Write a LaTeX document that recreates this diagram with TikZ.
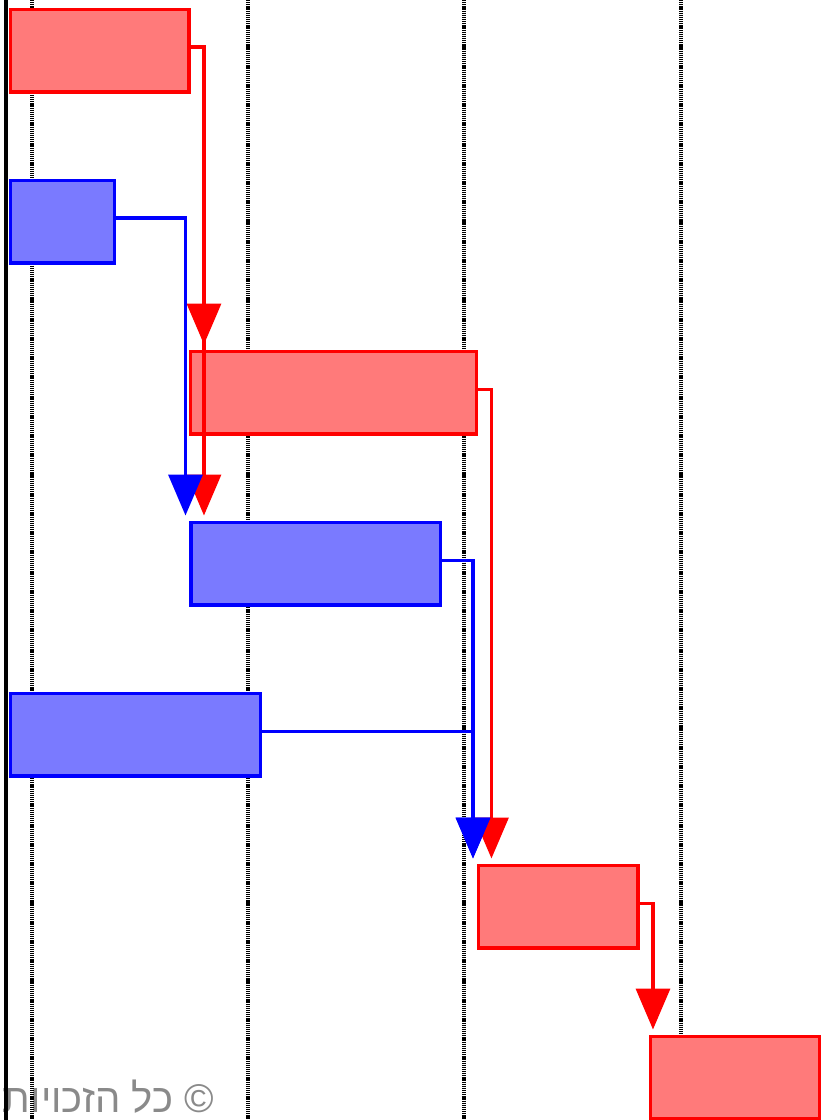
\documentclass[tikz,border=0pt]{standalone}
\usepackage{fontspec}
\usetikzlibrary{arrows.meta}
\TeXXeTstate=1
\newfontfamily\hebfont[Script=Hebrew]{Liberation Sans}
\definecolor{barred}{HTML}{FF0000}
\definecolor{barblue}{HTML}{0000FF}
\definecolor{notegray}{HTML}{8A8A8A}

\begin{document}
\begin{tikzpicture}[x=0.02cm,y=-0.02cm,
 task/.style={line width=2pt,anchor=north west,inner sep=0pt,minimum height=1.66cm},
 redtask/.style={task,draw=barred,fill=barred!52},
 bluetask/.style={task,draw=barblue,fill=barblue!52},
 redlink/.style={draw=barred,line width=2pt,-{Triangle[width=0.68cm,length=0.82cm]},shorten >=0.1cm},
 bluelink/.style={draw=barblue,line width=2pt,-{Triangle[width=0.68cm,length=0.82cm]},shorten >=0.1cm},
 gridline/.style={draw=black,line width=1.8pt,dash pattern=on 0.7pt off 0.5pt}]
\useasboundingbox (0,0) rectangle (821,1120);

\node[anchor=base east,text=notegray,font=\hebfont\fontsize{22.8}{25}\selectfont,inner sep=0pt] (rights) at (214,1112) {\beginR © כל הזכויות\endR};

\foreach \gx in {32,248,464,681}
  \draw[gridline] (\gx,0) -- (\gx,1120);
\draw[line width=2.3pt] (6,0) -- (6,1120);

\node[redtask,minimum width=3.58cm] (t1) at (8.5,7.5) {};
\node[bluetask,minimum width=2.09cm] (t2) at (8.5,178.5) {};
\node[redtask,minimum width=5.73cm] (t3) at (188.5,349.5) {};
\node[bluetask,minimum width=5.0cm] (t4) at (189,520.5) {};
\node[bluetask,minimum width=5.01cm] (t5) at (8.5,691.5) {};
\node[redtask,minimum width=3.2cm] (t6) at (476.5,863.5) {};
\node[redtask,minimum width=3.39cm] (t7) at (648.5,1034.5) {};

\draw[redlink] ([yshift=0.07cm]t1.east) -- ++(13,0) coordinate (k1) -- (k1 |- t3.north);
\draw[redlink] (k1) -- (k1 |- t4.north);
\draw[redlink] ([yshift=0.07cm]t3.east) -- ++(13,0) coordinate (k3) -- (k3 |- t6.north);
\draw[redlink] ([yshift=0.07cm]t6.east) -- ++(13,0) coordinate (k6) -- (k6 |- t7.north);

\draw[bluelink] ([yshift=0.07cm]t2.east) -| ([xshift=-0.07cm]t4.north west);
\draw[bluelink] ([yshift=0.07cm]t4.east) -| ([xshift=-0.07cm]t6.north west);
\draw[bluelink] ([yshift=0.07cm]t5.east) -| ([xshift=-0.07cm]t6.north west);
\end{tikzpicture}
\end{document}
